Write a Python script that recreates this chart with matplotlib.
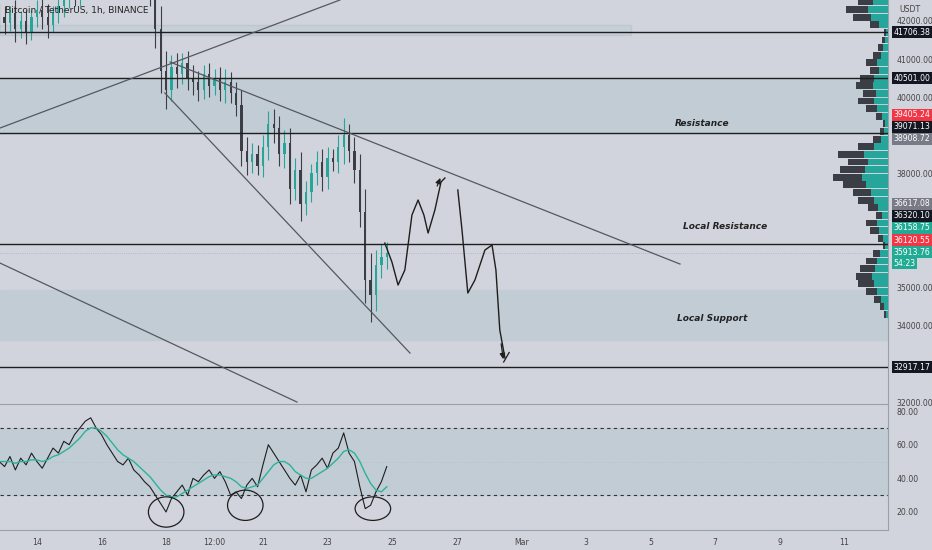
import numpy as np
import matplotlib.pyplot as plt
from matplotlib.patches import Ellipse

# 4h candles, x in days of Feb (Mar 1 = 29)
t0 = 12.83
closes = [42100,41950,42200,41800,42000,41700,42100, 42300,42100,41900,42200,42400,42600,42900,42700,
          43100,43400,43800,43600,43900,44200,43700,43500,43800,43400,43200,43600,43300,42800,
          41800,40700,40200,40800,40600,40900,40500,40400,40200,40600,40300,40500,40200,40400,40100,39800,
          38600,38300,38500,38200,38700,39300,39200,38500,38800,37600,38100,37200,37500,38000,38300,37900,
          38400,38300,38700,39000,38600,38100,37000,35200,34800,35600,35800,35900]
wicks = [250,300,200,350,250,300,200, 250,300,350,200,250,300,250,300,
         300,250,300,350,300,250,300,350,300,250,300,250,300,400,
         500,600,500,300,350,250,300,350,300,250,300,250,300,350,250,300,
         400,350,300,250,300,350,400,300,350,400,300,450,300,250,300,350,
         300,250,300,450,300,350,400,600,700,400,350,300]
rsi = [50,47,53,45,52,48,55,50, 46,52,58,55,62,60,66, 70,74,76,70,66,60,
       55,50,48,52,45,42,38,35, 30,25,20,28,32, 36,30,40,38,42,45,40,
       44,38,30,32,28,36, 40,35,48,60,55, 50,45,40,36,42,32,45,
       48,52,46,55,58,67, 55,50,35,22,24,32,38,47]
rsi_ma = [50,50,50,49,50,50,51,51, 50,51,53,54,56,58,61, 64,68,70,70,68,65,
          61,57,54,52,50,47,44,41, 37,33,30,29,29, 31,33,35,37,39,41,42,
          42,41,40,38,35,34, 35,36,40,44,48, 50,50,48,44,42,40,40,
          42,44,46,49,52,56, 57,55,50,43,37,33,32,35]

levels = [41706.38, 40501.00, 39071.13, 36158.75, 32917.17]
zones = [(39071, 40501), (33630, 34940)]
# trend lines (day, price)
trend_lines = [[(12.855, 39191), (23.38, 42551)],
               [(18.12, 40924), (33.91, 35621)],
               [(17.96, 40110), (25.55, 33285)],
               [(12.855, 35647), (22.05, 31999)]]
path1 = [(24.77,36172),(24.99,35674),(25.18,35070),(25.39,35464),(25.61,36908),(25.80,37301),
         (25.98,36908),(26.11,36435),(26.32,37039),(26.51,37774),(26.63,37879)]
path2 = [(27.03,37564),(27.16,36514),(27.34,34860),(27.56,35201),(27.87,35989),(28.09,36120),
         (28.21,35464),(28.33,33889),(28.49,33154)]

vp_prices = np.arange(34300, 42501, 200)
vp_total = [4,8,14,22,30,32,28,22,15,5,10,18,22,12,20,30,35,45,55,48,40,50,30,15,8,5,12,22,30,25,32,28,18,22,15,10,6,4,18,35,42,30]
vp_up = [2,4,7,11,14,16,13,11,8,3,5,9,11,6,10,14,17,22,26,23,20,24,14,7,4,3,6,11,14,12,15,14,9,11,7,5,3,2,9,17,20,15]

price_labels = [(41706.38, 41706.38, '#131722'), (40501.00, 40501.00, '#131722'),
                (39405.24, 39533, '#f23645'), (39071.13, 39218, '#131722'), (38908.72, 38903, '#787b86'),
                (36617.08, 37197, '#787b86'), (36320.10, 36882, '#131722'), (36158.75, 36567, '#22ab94'),
                (36120.55, 36252, '#f23645'), (35913.76, 35937, '#22ab94'), (32917.17, 32917.17, '#131722')]
date_pos = [14, 16, 18, 19.5, 21, 23, 25, 27, 29, 31, 33, 35, 37, 39]
date_lab = ['14', '16', '18', '12:00', '21', '23', '25', '27', 'Mar', '3', '5', '7', '9', '11']

BG = '#d1d4dc'
ZONE = '#c2ccd5'
XL = (12.855, 40.35)
FS = 5.6

fig = plt.figure(figsize=(9.32, 5.5), dpi=100, facecolor=BG)
ax1 = fig.add_axes([0, 147/550, 888/932, 403/550], facecolor=BG)
ax2 = fig.add_axes([0, 20/550, 888/932, 125/550], facecolor=BG)

t = t0 + np.arange(len(closes)) / 6
opens = [closes[0] + 100] + closes[:-1]
for ti, o, c, w in zip(t, opens, closes, wicks):
    col = '#26a69a' if c >= o else '#3b3e45'
    ax1.vlines(ti, min(o, c) - w, max(o, c) + w, color=col, lw=0.8, zorder=3)
    ax1.bar(ti, abs(c - o) or 30, bottom=min(o, c), width=0.07, color=col, zorder=3)

ax1.axhspan(41630, 41900, xmin=0, xmax=(32.4 - XL[0]) / (XL[1] - XL[0]), color=ZONE, alpha=0.7, ec='#b8c4cd', zorder=1)
for lo, hi in zones:
    ax1.axhspan(lo, hi, color=ZONE, zorder=1)
for lv in levels:
    ax1.axhline(lv, color='#1e1e1e', lw=1.0, zorder=4)
ax1.axhline(35913.76, color='#a8b0b8', lw=0.6, ls=':', zorder=2)
for ln in trend_lines:
    (xa, ya), (xb, yb) = ln
    ax1.plot([xa, xb], [ya, yb], color='#555860', lw=0.9, zorder=4)
for pth in (path1, path2):
    xs, ys = zip(*pth)
    ax1.plot(xs, ys, color='#1e1e1e', lw=1.0, zorder=5)
ax1.annotate('', xy=(26.52, 37950), xytext=(26.36, 37600),
             arrowprops=dict(arrowstyle='-|>', color='#1e1e1e', lw=0.9, mutation_scale=8), zorder=5)
ax1.annotate('', xy=(28.45, 33050), xytext=(28.36, 33600),
             arrowprops=dict(arrowstyle='-|>', color='#1e1e1e', lw=0.9, mutation_scale=8), zorder=5)
ax1.plot([28.45, 28.62], [33050, 33300], color='#1e1e1e', lw=0.9, zorder=5)

ax1.text(34.6, 39322, 'Resistance', fontsize=6.5, style='italic', weight='bold', color='#222', ha='center', va='center')
ax1.text(35.3, 36619, 'Local Resistance', fontsize=6.5, style='italic', weight='bold', color='#222', ha='center', va='center')
ax1.text(34.9, 34204, 'Local Support', fontsize=6.5, style='italic', weight='bold', color='#222', ha='center', va='center')
ax1.text(0.006, 0.985, 'Bitcoin / TetherUS, 1h, BINANCE', transform=ax1.transAxes, fontsize=6.5,
         color='#222', va='top')

# volume profile
tot = np.array(vp_total) / 32.3
up = np.array(vp_up) / 32.3
ax1.barh(vp_prices, tot, left=XL[1] - tot, height=180, color='#3b3e45', zorder=3)
ax1.barh(vp_prices, up, left=XL[1] - up, height=180, color='#26a69a', zorder=3)

ax1.set_xlim(*XL)
ax1.set_ylim(31974, 42551)
ax1.yaxis.tick_right()
ax1.set_yticks([42000, 41000, 40000, 38000, 35000, 34000, 32000])
ax1.set_yticklabels([f'{v:.2f}' for v in [42000, 41000, 40000, 38000, 35000, 34000, 32000]])
ax1.tick_params(axis='y', length=0, labelsize=FS, labelcolor='#444', pad=6)
ax1.set_xticks([])
for s in ['top', 'left', 'bottom']:
    ax1.spines[s].set_visible(False)
ax1.spines['right'].set_color('#9aa0a8')
ax1.text(1.013, 42300, 'USDT', transform=ax1.get_yaxis_transform(), fontsize=FS, color='#444', va='center', ha='left')
for val, pos, col in price_labels:
    ax1.text(1.006, pos, f'{val:.2f}', transform=ax1.get_yaxis_transform(), fontsize=FS, color='white',
             va='center', ha='left', bbox=dict(boxstyle='square,pad=0.2', fc=col, ec='none'), zorder=10,
             clip_on=False)
ax1.text(1.006, 35937 - 300, '54:23', transform=ax1.get_yaxis_transform(), fontsize=FS, color='white',
         va='center', ha='left', bbox=dict(boxstyle='square,pad=0.2', fc='#22ab94', ec='none'), zorder=10)

# RSI pane
ax2.axhspan(30, 70, color=ZONE, zorder=1)
ax2.axhline(70, color='#333', lw=0.8, ls=(0, (3, 3)))
ax2.axhline(30, color='#333', lw=0.8, ls=(0, (3, 3)))
ax2.axhline(50, color='#b5bdc5', lw=0.5, ls=':')
ax2.plot(t, rsi, color='#1e1e1e', lw=0.8, zorder=3)
ax2.plot(t, rsi_ma, color='#2bb39a', lw=1.0, zorder=3)
for cx, cy, w, h in [(18.0, 20, 1.1, 18), (20.45, 24, 1.1, 18), (24.4, 22, 1.1, 14)]:
    ax2.add_patch(Ellipse((cx, cy), w, h, fill=False, ec='#1e1e1e', lw=0.9, zorder=4))
ax2.set_xlim(*XL)
ax2.set_ylim(9.3, 83.6)
ax2.yaxis.tick_right()
ax2.set_yticks([80, 60, 40, 20])
ax2.set_yticklabels(['80.00', '60.00', '40.00', '20.00'])
ax2.tick_params(axis='y', length=0, labelsize=FS, labelcolor='#444', pad=6)
ax2.set_xticks(date_pos)
ax2.set_xticklabels(date_lab)
ax2.tick_params(axis='x', length=0, labelsize=FS, labelcolor='#444', pad=6)
for s in ['top', 'left']:
    ax2.spines[s].set_visible(False)
ax2.spines['right'].set_color('#9aa0a8')
ax2.spines['bottom'].set_color('#9aa0a8')
fig.add_artist(plt.Line2D([0, 888/932], [146/550, 146/550], color='#9aa0a8', lw=0.8))

fig.savefig('out.png', dpi=100, facecolor=BG)
